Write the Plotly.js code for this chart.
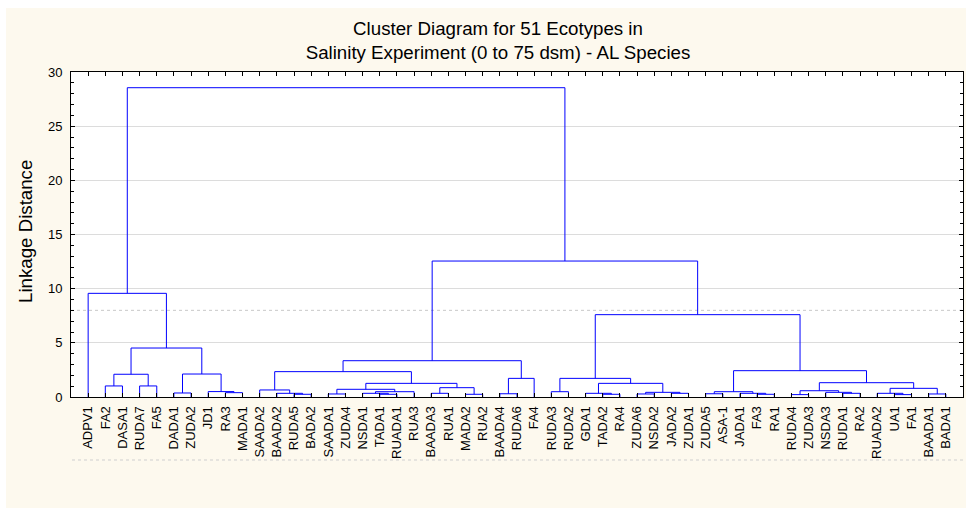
<!DOCTYPE html>
<html><head><meta charset="utf-8">
<script src="https://cdn.plot.ly/plotly-3.0.1.min.js"></script>
<style>html,body{margin:0;padding:0;background:#fff}#chart{width:966px;height:514px}</style>
</head><body><div id="chart"></div>
<script>
// Leaf order (left to right)
const leaves = ['ADPV1','FA2','DASA1','RUDA7','FA5','DADA1','ZUDA2','JD1','RA3','MADA1',
  'SAADA2','BAADA2','RUDA5','BADA2','SAADA1','ZUDA4','NSDA1','TADA1','RUADA1','RUA3',
  'BAADA3','RUA1','MADA2','RUA2','BAADA4','RUDA6','FA4','RUDA3','RUDA2','GDA1',
  'TADA2','RA4','ZUDA6','NSDA2','JADA2','ZUDA1','ZUDA5','ASA-1','JADA1','FA3',
  'RA1','RUDA4','ZUDA3','NSDA3','RUDA1','RA2','RUADA2','UA1','FA1','BAADA1','BADA1'];

// Merge list: [left, right, linkage distance]; a string is a leaf, a number is an earlier merge
const merges = [
  ['FA2','DASA1',1.02],      // 0
  ['RUDA7','FA5',1.02],      // 1
  [0,1,2.10],                // 2
  ['DADA1','ZUDA2',0.37],    // 3
  ['RA3','MADA1',0.40],      // 4
  ['JD1',4,0.50],            // 5
  [3,5,2.12],                // 6
  [2,6,4.52],                // 7
  ['ADPV1',7,9.57],          // 8
  ['RUDA5','BADA2',0.25],    // 9
  ['BAADA2',9,0.34],         // 10
  ['SAADA2',10,0.65],        // 11
  ['SAADA1','ZUDA4',0.28],   // 12
  ['TADA1','RUADA1',0.25],   // 13
  ['NSDA1',13,0.34],         // 14
  [14,'RUA3',0.49],          // 15
  [12,15,0.71],              // 16
  ['BAADA3','RUA1',0.34],    // 17
  ['MADA2','RUA2',0.25],     // 18
  [17,18,0.86],              // 19
  [16,19,1.26],              // 20
  [11,20,2.34],              // 21
  ['BAADA4','RUDA6',0.30],   // 22
  [22,'FA4',1.72],           // 23
  [21,23,3.35],              // 24
  ['RUDA3','RUDA2',0.49],    // 25
  ['TADA2','RA4',0.25],      // 26
  ['GDA1',26,0.34],          // 27
  ['ZUDA6','NSDA2',0.28],    // 28
  ['JADA2','ZUDA1',0.34],    // 29
  [28,29,0.43],              // 30
  [27,30,1.26],              // 31
  [25,31,1.72],              // 32
  ['ZUDA5','ASA-1',0.30],    // 33
  ['FA3','RA1',0.25],        // 34
  ['JADA1',34,0.34],         // 35
  [33,35,0.49],              // 36
  ['RUDA4','ZUDA3',0.22],    // 37
  ['RUDA1','RA2',0.34],      // 38
  ['NSDA3',38,0.43],         // 39
  [37,39,0.58],              // 40
  ['UA1','FA1',0.22],        // 41
  ['RUADA2',41,0.34],        // 42
  ['BAADA1','BADA1',0.28],   // 43
  [42,43,0.80],              // 44
  [40,44,1.32],              // 45
  [36,45,2.43],              // 46
  [32,46,7.60],              // 47
  [24,47,12.55],             // 48
  [8,48,28.55]               // 49
];

const yTickVals = [0,5,10,15,20,25,30];
const cutLevel = 8;
const chartTitle = 'Cluster Diagram for 51 Ecotypes in<br>Salinity Experiment (0 to 75 dsm) - AL Species';
const yTitle = 'Linkage Distance';

// ---- build the dendrogram segments from the merge list ----
const leafPos = {};
leaves.forEach((l,i)=>{ leafPos[l] = i+1; });
const nodeX = [], nodeH = [];
const getX = n => typeof n === 'string' ? leafPos[n] : nodeX[n];
const getH = n => typeof n === 'string' ? 0 : nodeH[n];
const xs = [], ys = [];
merges.forEach((m,k)=>{
  const [a,b,h] = m;
  const xa = getX(a), xb = getX(b), ha = getH(a), hb = getH(b);
  xs.push(xa, xa, xb, xb, null);
  ys.push(ha, h, h, hb, null);
  nodeX[k] = (xa+xb)/2; nodeH[k] = h;
});

const W = 966, H = 514, L = 71, R = 3, T = 72, B = 117;
const pw = W-L-R, ph = H-T-B;
const px2x = p => (p - L)/pw;
const py2y = p => (H - B - p)/ph;

const trace = {
  x: xs, y: ys, type: 'scatter', mode: 'lines',
  line: {color: '#0000ff', width: 1}, hoverinfo: 'skip', connectgaps: false
};

const layout = {
  width: W, height: H,
  margin: {l: L, r: R, t: T, b: B, pad: 0},
  paper_bgcolor: '#fdf9ee', plot_bgcolor: '#ffffff',
  showlegend: false,
  font: {family: 'Liberation Sans, Arial, sans-serif', color: '#000', size: 13},
  title: {text: chartTitle, font: {size: 18.7, color: '#000'}, x: 498/W, xref: 'container', xanchor: 'center',
          y: 1 - 35/H, yref: 'container', yanchor: 'middle'},
  xaxis: {
    range: [0, leaves.length + 1], tickmode: 'array',
    tickvals: leaves.map((l,i)=>i+1), ticktext: leaves, tickangle: -90,
    ticks: 'inside', ticklen: 4, tickcolor: '#000', tickwidth: 1, ticklabelstandoff: 3,
    showline: true, linecolor: '#000', linewidth: 1, mirror: 'allticks',
    showgrid: false, zeroline: false, tickfont: {size: 13}
  },
  yaxis: {
    range: [0, 30], tickmode: 'array', tickvals: yTickVals,
    ticks: 'inside', ticklen: 4, tickcolor: '#000', tickwidth: 1, ticklabelstandoff: 5,
    minor: {dtick: 1, ticks: 'inside', ticklen: 3, tickcolor: '#000', showgrid: false},
    showline: true, linecolor: '#000', linewidth: 1, mirror: 'allticks',
    showgrid: true, gridcolor: '#dcdcdc', gridwidth: 1, zeroline: false, tickfont: {size: 13}
  },
  annotations: [{
    text: yTitle, textangle: -90, showarrow: false, font: {size: 18.7, color: '#000'},
    xref: 'paper', yref: 'paper', x: px2x(25), y: py2y(232), xanchor: 'center', yanchor: 'middle'
  }],
  shapes: [
    {type: 'line', xref: 'paper', yref: 'y', x0: 0, x1: 1, y0: cutLevel, y1: cutLevel,
     line: {color: '#c8c8c8', width: 1, dash: 'dot'}, layer: 'below'},
    {type: 'line', xref: 'paper', yref: 'paper', x0: px2x(72), x1: 1, y0: py2y(460), y1: py2y(460),
     line: {color: '#cfcfcf', width: 1, dash: 'dot'}},
    {type: 'rect', xref: 'paper', yref: 'paper', x0: px2x(0), x1: px2x(6), y0: py2y(H), y1: py2y(0),
     fillcolor: '#ffffff', line: {width: 0}},
    {type: 'rect', xref: 'paper', yref: 'paper', x0: px2x(0), x1: px2x(W), y0: py2y(8), y1: py2y(0),
     fillcolor: '#ffffff', line: {width: 0}},
    {type: 'rect', xref: 'paper', yref: 'paper', x0: px2x(0), x1: px2x(W), y0: py2y(H), y1: py2y(508),
     fillcolor: '#ffffff', line: {width: 0}}
  ]
};

Plotly.newPlot('chart', [trace], layout, {displayModeBar: false, staticPlot: true});
</script></body></html>
